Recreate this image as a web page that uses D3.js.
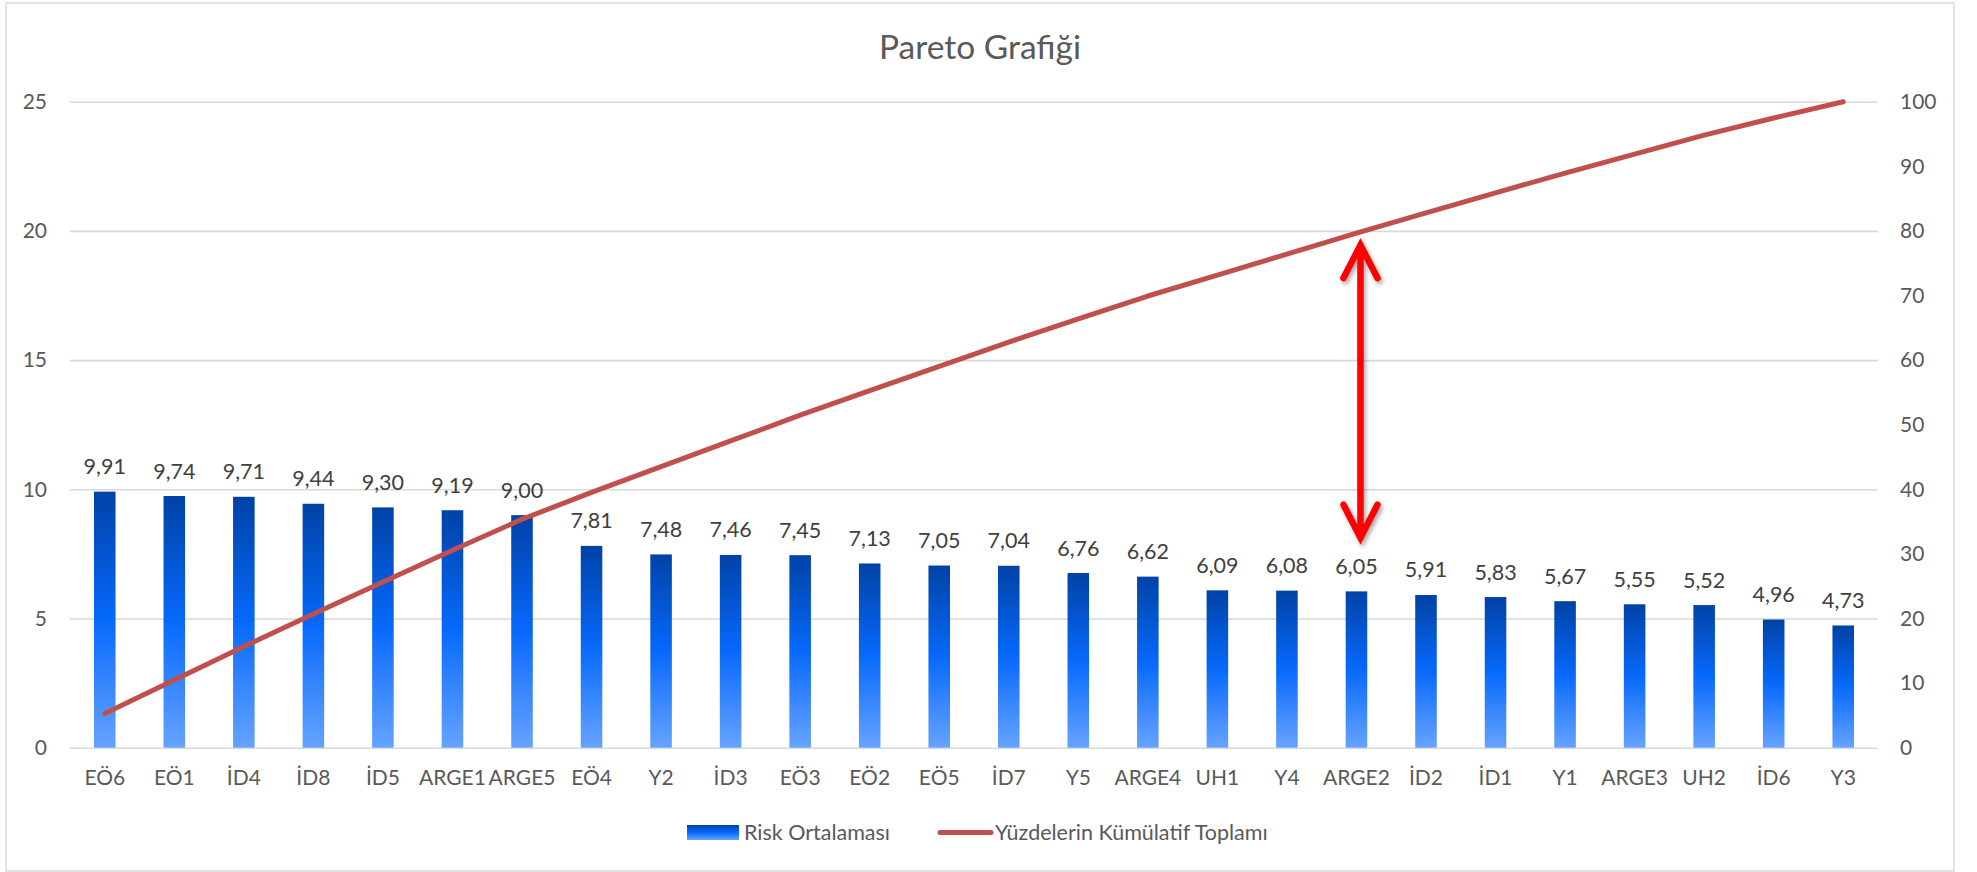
<!DOCTYPE html>
<html>
<head>
<meta charset="utf-8">
<script src="https://cdn.jsdelivr.net/npm/d3@7"></script>
<style>
  html, body { margin: 0; padding: 0; background: #ffffff; }
  svg { display: block; font-family: Lato, "Open Sans", sans-serif; }
</style>
</head>
<body>
<svg id="chart" width="1977" height="872"></svg>
<script>
const chartTitle = "Pareto Grafiği";
const categories = ["EÖ6","EÖ1","İD4","İD8","İD5","ARGE1","ARGE5","EÖ4","Y2","İD3","EÖ3","EÖ2","EÖ5","İD7","Y5","ARGE4","UH1","Y4","ARGE2","İD2","İD1","Y1","ARGE3","UH2","İD6","Y3"];
const riskValues = [9.91,9.74,9.71,9.44,9.30,9.19,9.00,7.81,7.48,7.46,7.45,7.13,7.05,7.04,6.76,6.62,6.09,6.08,6.05,5.91,5.83,5.67,5.55,5.52,4.96,4.73];
const cumulativePct = [5.29,10.48,15.66,20.70,25.66,30.56,35.36,39.52,43.51,47.49,51.47,55.27,59.03,62.79,66.39,69.92,73.17,76.41,79.64,82.79,85.90,88.93,91.89,94.83,97.48,100];
const leftTicks = [0,5,10,15,20,25];
const rightTicks = [0,10,20,30,40,50,60,70,80,90,100];
const seriesNames = ["Risk Ortalaması","Yüzdelerin Kümülatif Toplamı"];
const arrowCategory = "ARGE2";
const arrowRange = [77.8, 32.5];

const svg = d3.select("#chart");
const plot = {left: 70, right: 1878, top: 101.7, bottom: 747.7};

const locale = d3.formatLocale({decimal: ",", thousands: ".", grouping: [3], currency: ["", ""]});
const fmt = locale.format(".2f");

// defs
const defs = svg.append("defs");
const grad = defs.append("linearGradient").attr("id", "barGrad")
  .attr("x1", 0).attr("y1", 0).attr("x2", 0).attr("y2", 1);
grad.append("stop").attr("offset", "0%").attr("stop-color", "#0042A6");
grad.append("stop").attr("offset", "50%").attr("stop-color", "#0769FB");
grad.append("stop").attr("offset", "100%").attr("stop-color", "#66A3FF");
const f = defs.append("filter").attr("id", "shadow").attr("x", "-50%").attr("y", "-20%").attr("width", "200%").attr("height", "140%");
f.append("feDropShadow").attr("dx", 2).attr("dy", 3).attr("stdDeviation", 2)
  .attr("flood-color", "#000").attr("flood-opacity", 0.35);

// chart border
svg.append("rect").attr("x", 6).attr("y", 3).attr("width", 1948).attr("height", 868)
  .attr("fill", "#fff").attr("stroke", "#D9D9D9").attr("stroke-width", 1.5);

// scales
const x = d3.scaleBand().domain(categories).range([plot.left, plot.right])
  .paddingInner(0.69).paddingOuter(0.345);
const yL = d3.scaleLinear().domain([0, 25]).range([plot.bottom, plot.top]);
const yR = d3.scaleLinear().domain([0, 100]).range([plot.bottom, plot.top]);

// title
svg.append("text").attr("x", 980).attr("y", 59).attr("text-anchor", "middle")
  .attr("font-size", 33.5).attr("fill", "#595959").text(chartTitle);

// left axis with gridlines
const gL = svg.append("g").attr("transform", `translate(${plot.left},0)`)
  .call(d3.axisLeft(yL).tickValues(leftTicks).tickSize(-(plot.right - plot.left)).tickPadding(23));
gL.select(".domain").remove();
gL.selectAll(".tick line").attr("stroke", "#D9D9D9").attr("stroke-width", 1.6);
gL.selectAll(".tick text").attr("font-size", 21).attr("fill", "#595959").attr("font-family", "Lato");

// right axis
const gR = svg.append("g").attr("transform", `translate(${plot.right},0)`)
  .call(d3.axisRight(yR).tickValues(rightTicks).tickSize(0).tickPadding(22));
gR.select(".domain").remove();
gR.selectAll(".tick text").attr("font-size", 21).attr("fill", "#595959").attr("font-family", "Lato");

// bottom axis labels
const gB = svg.append("g").attr("transform", `translate(0,${plot.bottom})`)
  .call(d3.axisBottom(x).tickSize(0).tickPadding(22));
gB.select(".domain").remove();
gB.selectAll(".tick text").attr("font-size", 21).attr("fill", "#595959").attr("font-family", "Lato");

// bars
const data = categories.map((c, i) => ({c, v: riskValues[i], p: cumulativePct[i]}));
svg.append("g").selectAll("rect").data(data).join("rect")
  .attr("x", d => x(d.c)).attr("width", x.bandwidth())
  .attr("y", d => yL(d.v)).attr("height", d => yL(0) - yL(d.v))
  .attr("fill", "url(#barGrad)");

// data labels
svg.append("g").selectAll("text").data(data).join("text")
  .attr("x", d => x(d.c) + x.bandwidth() / 2).attr("y", d => yL(d.v) - 17.5)
  .attr("text-anchor", "middle").attr("font-size", 21.5).attr("fill", "#404040")
  .text(d => fmt(d.v));

// cumulative line
const line = d3.line().x(d => x(d.c) + x.bandwidth() / 2).y(d => yR(d.p));
svg.append("path").datum(data).attr("d", line)
  .attr("fill", "none").attr("stroke", "#C0504D").attr("stroke-width", 5)
  .attr("stroke-linecap", "round").attr("stroke-linejoin", "round");

// annotation arrow
const ax = x(arrowCategory) + x.bandwidth() / 2 + 4;
const yTop = yR(arrowRange[0]), yBot = yR(arrowRange[1]);
const hw = 17, hl = 33;
svg.append("path")
  .attr("d", `M${ax},${yTop}L${ax},${yBot}M${ax - hw},${yTop + hl}L${ax},${yTop}L${ax + hw},${yTop + hl}M${ax - hw},${yBot - hl}L${ax},${yBot}L${ax + hw},${yBot - hl}`)
  .attr("fill", "none").attr("stroke", "#FF0000").attr("stroke-width", 6.5)
  .attr("stroke-linecap", "round").attr("stroke-linejoin", "miter")
  .attr("filter", "url(#shadow)");

// legend
const leg = svg.append("g");
leg.append("rect").attr("x", 687).attr("y", 825).attr("width", 52).attr("height", 15).attr("fill", "url(#barGrad)");
leg.append("text").attr("x", 744).attr("y", 839.5).attr("font-size", 21.5).attr("fill", "#595959").text(seriesNames[0]);
leg.append("line").attr("x1", 940).attr("x2", 991).attr("y1", 832.5).attr("y2", 832.5)
  .attr("stroke", "#C0504D").attr("stroke-width", 5).attr("stroke-linecap", "round");
leg.append("text").attr("x", 995).attr("y", 839.5).attr("font-size", 21.5).attr("fill", "#595959").text(seriesNames[1]);
</script>
</body>
</html>
